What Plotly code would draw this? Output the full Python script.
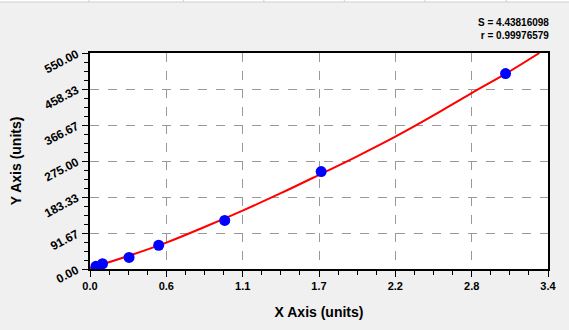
import plotly.graph_objects as go

# Data points
pts_x = [0.044, 0.093, 0.29, 0.51, 1.0, 1.716, 3.085]
pts_y = [6.8, 13.4, 29.5, 60.5, 123.6, 248.0, 497.7]

# Fitted curve
fit_x = [0.0, 0.283, 0.567, 0.85, 1.133, 1.417, 1.7, 1.983, 2.267, 2.55, 2.833, 3.1, 3.336]
fit_y = [2.0, 33.0, 67.3, 107.0, 148.8, 193.0, 239.6, 287.0, 337.0, 391.0, 448.0, 500.0, 550.0]

x_tickvals = [0.0, 0.5667, 1.1333, 1.7, 2.2667, 2.8333, 3.4]
x_ticktext = ["0.0", "0.6", "1.1", "1.7", "2.2", "2.8", "3.4"]
y_tickvals = [0.0, 91.667, 183.333, 275.0, 366.667, 458.333, 550.0]
y_ticktext = ["0.00", "91.67", "183.33", "275.00", "366.67", "458.33", "550.00"]

stats_text = ["S = 4.43816098", "r = 0.99976579"]

FONT = "Liberation Sans, Arial, sans-serif"

fig = go.Figure()
fig.add_trace(go.Scatter(x=fit_x, y=fit_y, mode="lines", line=dict(color="#FF0000", width=2, shape="spline"),
                         showlegend=False, hoverinfo="skip"))
fig.add_trace(go.Scatter(x=pts_x, y=pts_y, mode="markers", marker=dict(color="#0000FF", size=11, line=dict(width=0)),
                         showlegend=False))

axis_common = dict(showline=True, linecolor="black", linewidth=1.5, mirror=True, zeroline=False,
                   ticks="outside", ticklen=6, tickcolor="black", tickwidth=1,
                   showgrid=True, gridcolor="#999999", griddash="dash", gridwidth=1)

fig.update_xaxes(range=[0, 3.4], tickmode="array", tickvals=x_tickvals, ticktext=x_ticktext,
                 tickfont=dict(family=FONT, size=11, color="black", weight="bold"),
                 minor=dict(ticks="outside", ticklen=4, tickcolor="black", dtick=3.4 / 24, tick0=0, showgrid=False),
                 title=dict(text="X Axis (units)", font=dict(family=FONT, size=14, color="black", weight="bold"), standoff=16),
                 **axis_common)
fig.update_yaxes(range=[0, 550], tickmode="array", tickvals=y_tickvals, ticktext=y_ticktext, tickangle=-28,
                 tickfont=dict(family=FONT, size=12, color="black", weight="bold"), ticklabelstandoff=3,
                 minor=dict(ticks="outside", ticklen=4, tickcolor="black", dtick=550 / 24, tick0=0, showgrid=False),
                 **axis_common)

fig.add_annotation(xref="paper", yref="paper", x=-0.161, y=0.5, text="Y Axis (units)", textangle=-90,
                   showarrow=False, xanchor="center", yanchor="middle",
                   font=dict(family=FONT, size=14, color="black", weight="bold"))

fig.add_annotation(xref="paper", yref="paper", x=1.0, y=1.0, yshift=10, xshift=3, xanchor="right", yanchor="bottom",
                   text="<br>".join(stats_text), align="right", showarrow=False,
                   font=dict(family=FONT, size=10, color="black", weight="bold"))

# spreadsheet strip at top
fig.add_shape(type="rect", xref="paper", yref="paper", x0=-0.3, x1=1.1,
              y0=1 + 51.5 / 218, y1=1 + 60 / 218,
              fillcolor="white", line=dict(width=0), layer="above")
fig.add_shape(type="line", xref="paper", yref="paper", x0=-0.3, x1=1.1,
              y0=1 + 51.5 / 218, y1=1 + 51.5 / 218,
              line=dict(color="#D0D0D0", width=1), layer="above")
for px in [89, 184, 265, 346, 427, 509]:
    xp = (px - 90) / 461
    fig.add_shape(type="line", xref="paper", yref="paper", x0=xp, x1=xp,
                  y0=1 + 51.5 / 218, y1=1 + 60 / 218,
                  line=dict(color="#D0D0D0", width=1), layer="above")

fig.update_layout(width=569, height=330, margin=dict(l=90, r=18, t=53, b=59),
                  paper_bgcolor="#F0F0F0", plot_bgcolor="white",
                  font=dict(family=FONT, color="black"))

fig.write_html("out.html")
